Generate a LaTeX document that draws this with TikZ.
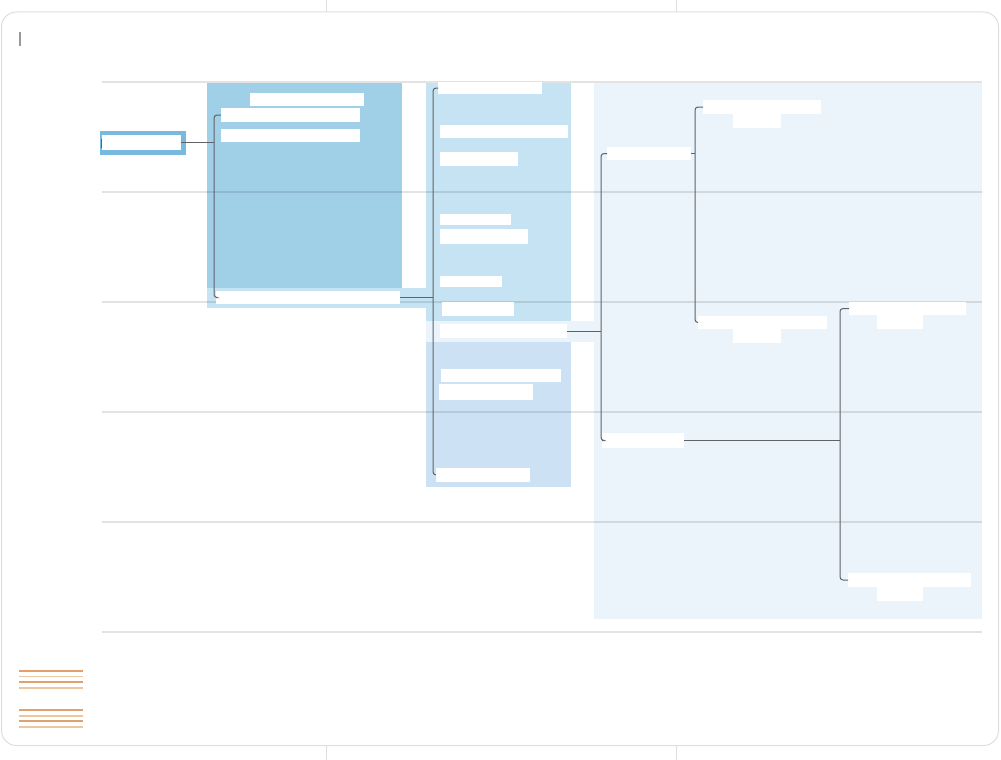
\documentclass[tikz,border=0pt]{standalone}
\definecolor{rootblue}{HTML}{78B9E0}
\definecolor{deepband}{HTML}{A0CFE8}
\definecolor{midband}{HTML}{C6E3F3}
\definecolor{lowband}{HTML}{CCE2F4}
\definecolor{paleband}{HTML}{EBF4FA}
\definecolor{linkgray}{HTML}{5F6368}
\definecolor{framegray}{HTML}{DEDEDE}
\definecolor{legdark}{HTML}{E2A06E}
\definecolor{leglight}{HTML}{EDC7A2}

\begin{document}
\begin{tikzpicture}[x=1pt,y=-1pt,
  link/.style={draw=linkgray, line width=1pt, rounded corners=3pt},
  lbl/.style={fill=white, inner sep=0pt, outer sep=0pt},
  rule/.style={draw=black, draw opacity=0.11, line width=1.2pt}]

\newcommand\Lbl[5]{\node[lbl, minimum width={(#4-#2)*1pt},
  minimum height={(#5-#3)*1pt}] (#1) at ({(#2+#4)/2},{(#3+#5)/2}) {};}

\useasboundingbox (0,0) rectangle (1001,760);

%% frame
\draw[framegray, line width=1pt, rounded corners=15pt] (1.5,12) rectangle (998.5,745.5);
\foreach \x in {326,676} {
  \draw[framegray, line width=1pt] (\x,0) -- (\x,12);
  \draw[framegray, line width=1pt] (\x,745.5) -- (\x,760);
}
\draw[black!40, line width=1.5pt] (20,32) -- (20,46); %% title mark

%% column bands
\fill[deepband] (207,83) rectangle (402,288);
\fill[midband] (207,288) rectangle (426,308);
\fill[midband] (426,83) rectangle (571,321);
\fill[paleband] (426,321) rectangle (594,342);
\fill[lowband] (426,342) rectangle (571,487);
\fill[paleband] (594,83) rectangle (982,619);

%% rules
\foreach \y in {82,192,302,412,522,632}
  \draw[rule] (102,\y) -- (982,\y);

%% root
\fill[rootblue] (100,131) rectangle (186,155);
\Lbl{root}{102}{135}{181}{150}
\draw[linkgray, line width=1.5pt] (101.5,139) -- (101.5,148);

%% column 2
\Lbl{g0}{250}{93}{364}{106}
\Lbl{g1}{221}{108}{360}{122}
\Lbl{g2}{221}{129}{360}{142}
\Lbl{gn}{216}{291}{400}{304}

%% column 3
\Lbl{h1}{438}{82}{542}{94}
\Lbl{h2}{440}{125}{568}{138}
\Lbl{h3}{440}{152}{518}{166}
\Lbl{h4}{440}{214}{511}{225}
\Lbl{h5}{440}{229}{528}{244}
\Lbl{h6}{440}{276}{502}{287}
\Lbl{h7}{442}{302}{514}{316}
\Lbl{h8}{440}{324}{567}{338}
\Lbl{h9}{441}{369}{561}{382}
\Lbl{h10}{439}{384}{533}{400}
\Lbl{h11}{436}{468}{530}{482}

%% column 4
\Lbl{ka}{607}{147}{691}{160}
\Lbl{kb}{602}{433}{684}{448}
\Lbl{ka1}{703}{100}{821}{114}
\Lbl{ka1s}{733}{114}{781}{128}
\Lbl{ka2}{698}{316}{827}{329}
\Lbl{ka2s}{733}{329}{781}{343}
\Lbl{kb1}{849}{302}{966}{315}
\Lbl{kb1s}{877}{315}{923}{329}
\Lbl{kb2}{848}{573}{971}{587}
\Lbl{kb2s}{877}{587}{923}{601}

%% brackets
\coordinate (bar2) at (214,200);
\coordinate (bar3) at (433,300);
\coordinate (bar4) at (601,300);
\coordinate (bar5) at (695,200);
\coordinate (bar6) at (840,440);

\draw[link] (g1.west) -| (bar2) |- (gn.west);
\draw[link] (root.east) -- (root.east -| bar2);
\draw[link] (h1.west) -| (bar3) |- (h11.west);
\draw[link] (gn.east) -- (gn.east -| bar3);
\draw[link] (ka.west) -| (bar4) |- (kb.west);
\draw[link] (h8.east) -- (h8.east -| bar4);
\draw[link] (ka1.west) -| (bar5) |- (ka2.west);
\draw[link] (ka.east) -- (ka.east -| bar5);
\draw[link] (kb1.west) -| (bar6) |- (kb2.west);
\draw[link] (kb.east) -- (kb.east -| bar6);

%% legend
\foreach \y/\c in {671/legdark,676.5/leglight,682/legdark,688/leglight,
                   710/legdark,716/leglight,721/legdark,727/leglight}
  \draw[\c, line width=1.5pt] (19,\y) -- (83,\y);

\end{tikzpicture}
\end{document}
